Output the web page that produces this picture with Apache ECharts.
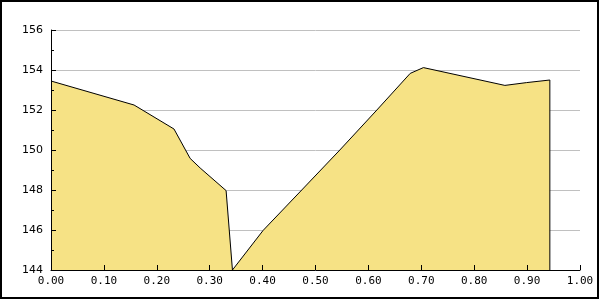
<!DOCTYPE html>
<html>
<head>
<meta charset="utf-8">
<script src="https://cdn.jsdelivr.net/npm/echarts@6/dist/echarts.min.js"></script>
<style>html,body{margin:0;padding:0;background:#fff;}#c{width:600px;height:300px;}</style>
</head>
<body>
<div id="c"></div>
<script>
var xValues = [0.000, 0.157, 0.2325, 0.263, 0.282, 0.331, 0.343, 0.401, 0.474, 0.546, 0.616, 0.679, 0.704, 0.858, 0.899, 0.943, 0.943];
var yValues = [153.45, 152.25, 151.05, 149.58, 149.1, 147.97, 144.0, 145.98, 148.0, 150.0, 152.0, 153.83, 154.12, 153.23, 153.37, 153.5, 144.0];
var yTicks = [144, 146, 148, 150, 152, 154, 156];

var data = xValues.map(function (x, i) { return [x, yValues[i]]; });
var yMin = yTicks[0], yMax = yTicks[yTicks.length - 1];
var chart = echarts.init(document.getElementById('c'), null, {renderer: 'canvas'});
chart.setOption({
  animation: false,
  backgroundColor: '#ffffff',
  grid: {left: 51, right: 20, top: 30, bottom: 30},
  graphic: [{
    type: 'rect', silent: true,
    shape: {x: 1, y: 1, width: 597, height: 297},
    style: {fill: 'none', stroke: '#000', lineWidth: 2}
  }],
  xAxis: {
    type: 'value', min: 0, max: 1, interval: 0.1, z: 10,
    axisLine: {lineStyle: {color: '#000', width: 1}},
    axisTick: {inside: true, length: 5, lineStyle: {color: '#000'}},
    axisLabel: {color: '#000', fontFamily: 'DejaVu Sans Mono', fontSize: 11, margin: 6,
      formatter: function (v) { return v.toFixed(2); }},
    splitLine: {show: false}
  },
  yAxis: [{
    type: 'value', min: yMin, max: yMax, interval: 2, position: 'left', z: 0,
    axisLine: {show: false}, axisTick: {show: false}, axisLabel: {show: false},
    splitLine: {show: true, lineStyle: {color: '#c0c0c0', width: 1}}
  }, {
    type: 'value', min: yMin, max: yMax, interval: 2, position: 'left', z: 10,
    axisLine: {show: true, lineStyle: {color: '#000', width: 1}},
    axisTick: {show: true, inside: true, length: 5, lineStyle: {color: '#000'}},
    minorTick: {show: true, splitNumber: 2, length: 3, lineStyle: {color: '#000'}},
    axisLabel: {color: '#000', fontFamily: 'DejaVu Sans', fontSize: 11, margin: 8},
    splitLine: {show: false}
  }],
  series: [{
    type: 'line',
    yAxisIndex: 0,
    data: data,
    showSymbol: false,
    lineStyle: {color: '#000', width: 1},
    areaStyle: {color: '#f6e285', opacity: 1, origin: 'start'},
    z: 2
  }]
});
</script>
</body>
</html>
